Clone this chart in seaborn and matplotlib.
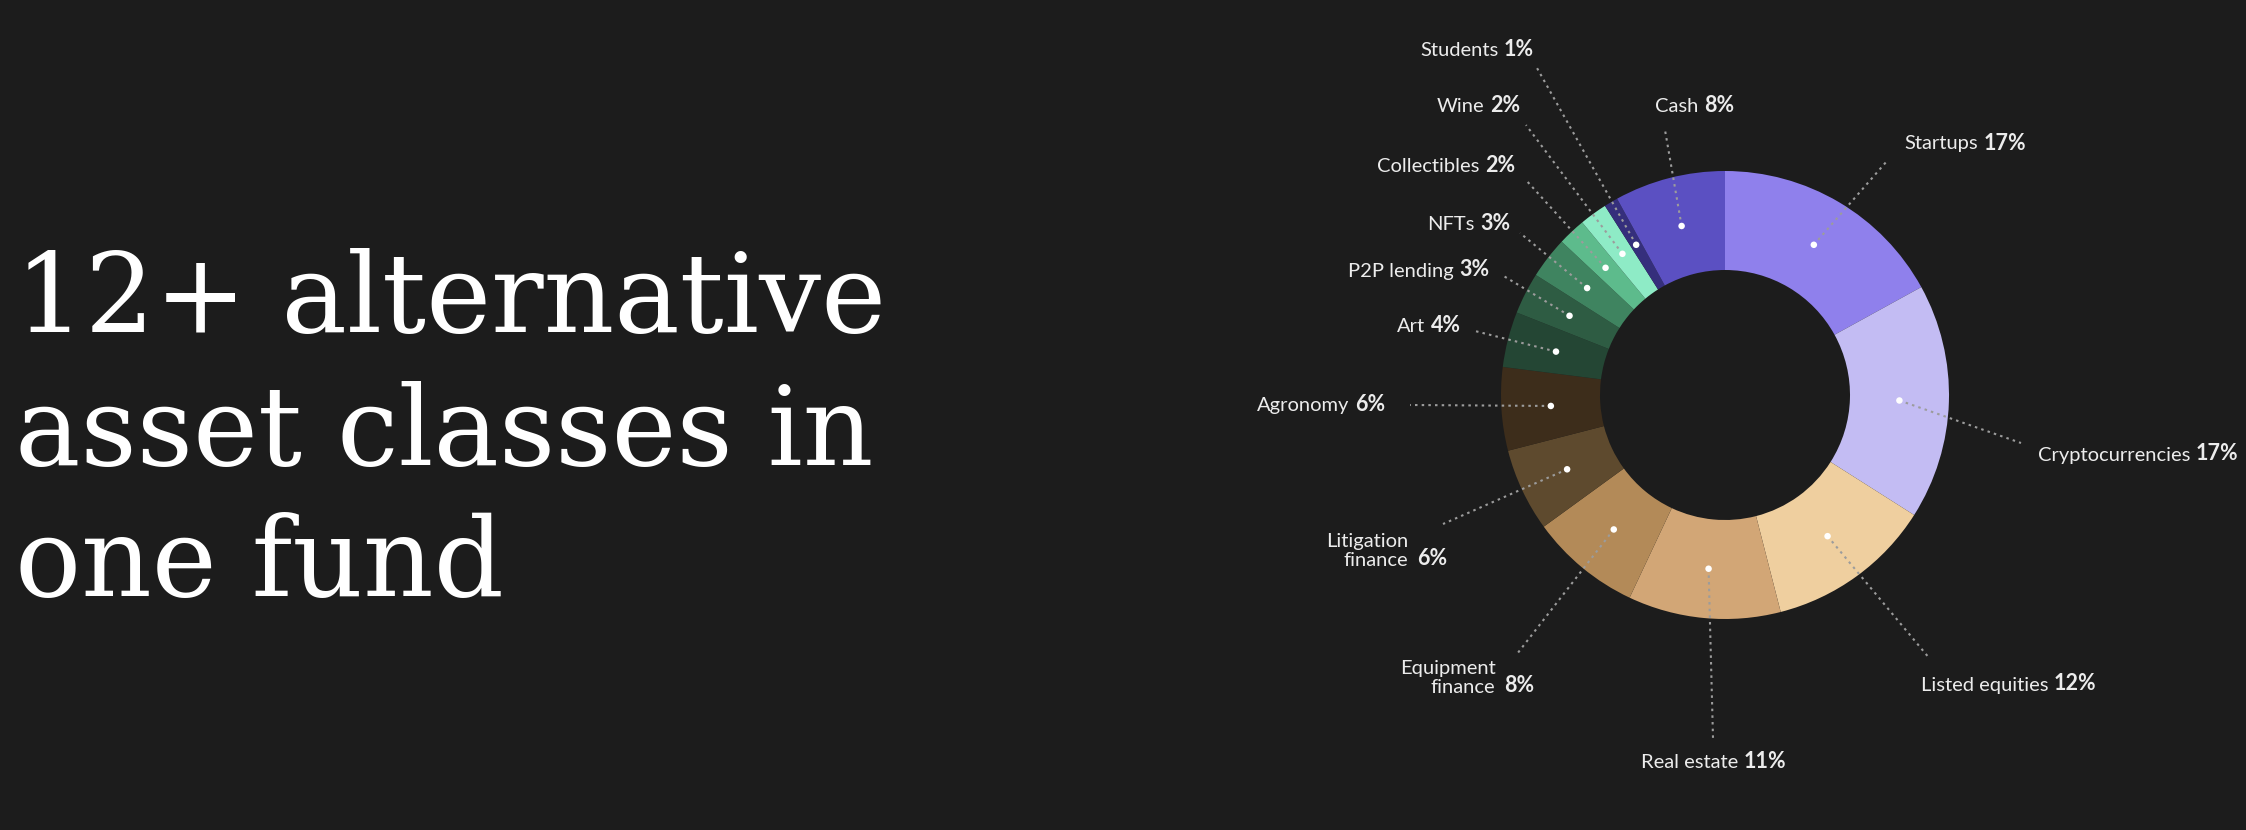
import numpy as np
import pandas as pd
import matplotlib
matplotlib.use("Agg")
import matplotlib.pyplot as plt
import seaborn as sns
from matplotlib.offsetbox import TextArea, HPacker, VPacker, AnnotationBbox

# ---------------- data ----------------
categories = ["Startups", "Cryptocurrencies", "Listed equities", "Real estate",
              "Equipment\nfinance", "Litigation\nfinance", "Agronomy", "Art",
              "P2P lending", "NFTs", "Collectibles", "Wine", "Students", "Cash"]
shares = [17, 17, 12, 11, 8, 6, 6, 4, 3, 3, 2, 2, 1, 8]
slice_colors = ["#8f80ec", "#c3bcf3", "#efcf9f", "#d2a676", "#b38a58", "#5e4a2e",
                "#3d2d1b", "#244634", "#2e5c43", "#3f8460", "#5dbb8c", "#8eebc6",
                "#352f7c", "#5b50c2"]
title_lines = ["12+ alternative", "asset classes in", "one fund"]

# ---------------- layout (pixels, y from top) ----------------
W, H = 2246, 830
BG = "#1c1c1c"
CX, CY = 1725, 395
R_OUT, R_IN = 224, 125
# label anchor (x, y, horizontal alignment)
label_pos = [(1904, 143, "left"), (2038, 454, "left"), (1921, 684, "left"),
             (1714, 762, "center"), (1534, 678, "right"), (1447, 551, "right"),
             (1385, 405, "right"), (1461, 326, "right"), (1489, 270, "right"),
             (1510, 223, "right"), (1515, 166, "right"), (1520, 105, "right"),
             (1534, 50, "right"), (1695, 105, "center")]
# end of each leader line
leader_end = [(1887, 161), (2021, 443), (1930, 659), (1713, 738), (1517, 654),
              (1443, 524), (1410, 405), (1475, 331), (1502, 275), (1520, 233),
              (1525, 179), (1526, 125), (1537, 68), (1665, 130)]

sns.set_theme(style="dark", rc={"figure.facecolor": BG, "axes.facecolor": BG,
                                "savefig.facecolor": BG})
palette = sns.color_palette(slice_colors)

fig = plt.figure(figsize=(W / 100, H / 100), dpi=100)
ax = fig.add_axes([0, 0, 1, 1])

ax.pie(shares, colors=palette, startangle=90, counterclock=False,
       radius=R_OUT, center=(CX, H - CY), frame=True,
       wedgeprops=dict(width=R_OUT - R_IN, linewidth=0))
ax.set_xlim(0, W)
ax.set_ylim(0, H)
ax.set_aspect("equal")
ax.axis("off")

# dots at slice middles
cum = np.cumsum(shares) - np.array(shares) / 2.0
theta = np.deg2rad(90 - cum / sum(shares) * 360.0)
r_mid = (R_OUT + R_IN) / 2.0
dots = pd.DataFrame({"x": CX + r_mid * np.cos(theta),
                     "y": (H - CY) + r_mid * np.sin(theta),
                     "cat": categories})

for (dx, dy), (ex, ey) in zip(dots[["x", "y"]].values, leader_end):
    ax.plot([dx, ex], [dy, H - ey], color="#9c9c9c", lw=1.5,
            linestyle=(0, (1.2, 2.0)), zorder=3)

sns.scatterplot(data=dots, x="x", y="y", color="white", s=22,
                edgecolor="none", ax=ax, zorder=4, legend=False)
ax.set_xlim(0, W)
ax.set_ylim(0, H)
ax.axis("off")

LBL_FONT = ["Lato", "DejaVu Sans"]
FS = 14.5
TXT = "#ececec"

for cat, val, (lx, ly, ha) in zip(categories, shares, label_pos):
    pct = TextArea(f"{val}%", textprops=dict(color=TXT, fontsize=FS + 1,
                                            family=LBL_FONT, weight="bold"))
    lines = cat.split("\n")
    if len(lines) == 1:
        name = TextArea(lines[0], textprops=dict(color=TXT, fontsize=FS,
                                                family=LBL_FONT))
        box = HPacker(children=[name, pct], align="baseline", pad=0, sep=4)
    else:
        names = [TextArea(t, textprops=dict(color=TXT, fontsize=FS,
                                            family=LBL_FONT)) for t in lines]
        vbox = VPacker(children=names, align="right", pad=0, sep=2)
        box = HPacker(children=[vbox, pct], align="bottom", pad=0, sep=6)
    bx = {"left": 0.0, "center": 0.5, "right": 1.0}[ha]
    ab = AnnotationBbox(box, (lx, H - ly), xycoords="data", frameon=False,
                        box_alignment=(bx, 0.5), pad=0, annotation_clip=False)
    ax.add_artist(ab)

# title
baselines = [332, 465, 596]
for line, b in zip(title_lines, baselines):
    ax.text(15, H - b, line, color="white", fontsize=79, family="DejaVu Serif",
            va="baseline", ha="left")

fig.savefig("out.png", dpi=100, facecolor=BG)
